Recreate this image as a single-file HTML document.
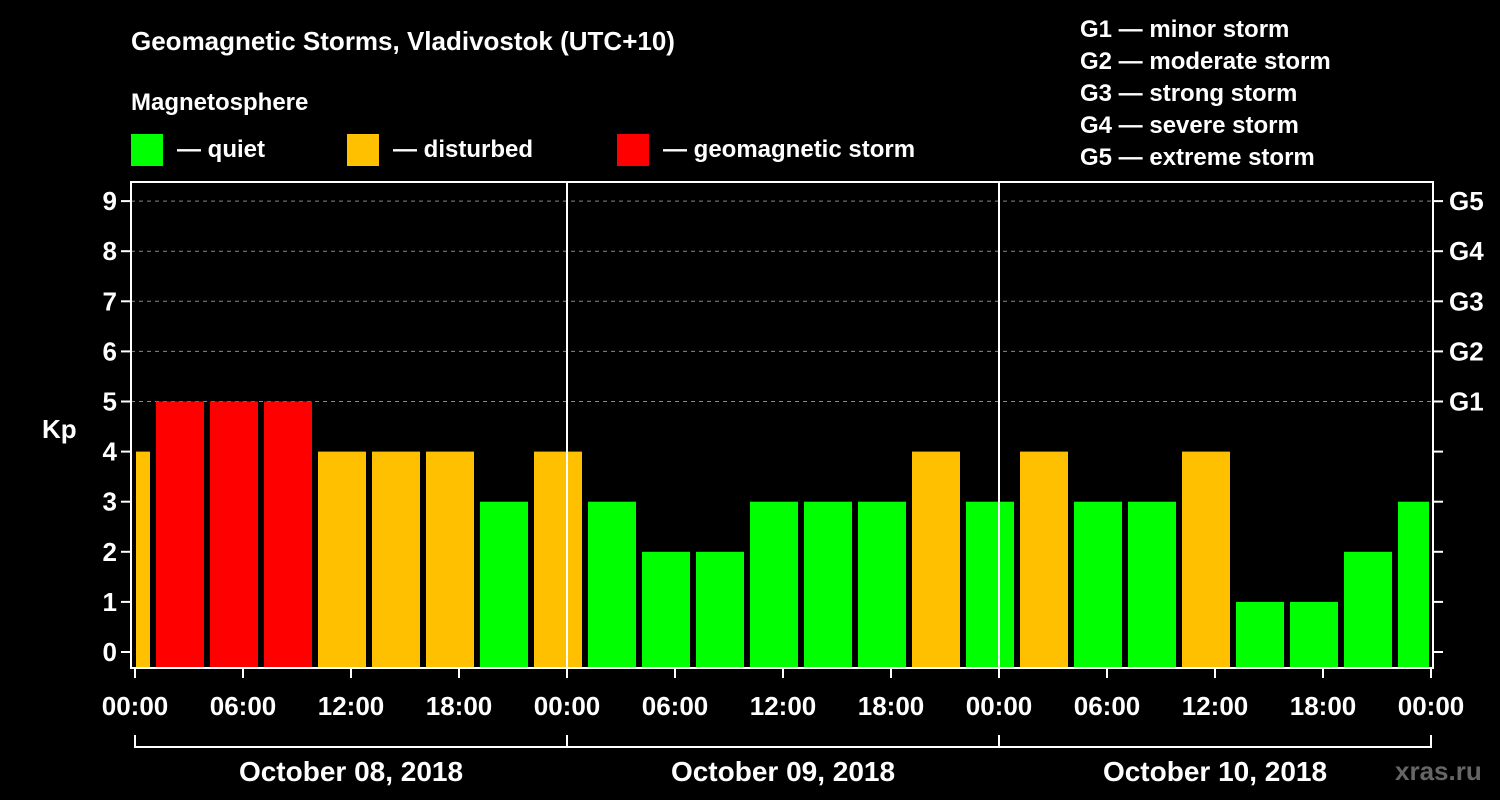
<!DOCTYPE html>
<html><head><meta charset="utf-8"><style>
body{margin:0;background:#000;}
svg{display:block;font-family:"Liberation Sans",Arial,sans-serif;font-weight:bold;}
</style></head><body>
<svg id="chart" width="1500" height="800" viewBox="0 0 1500 800">
<rect width="1500" height="800" fill="#000"/>
<text x="131" y="50" fill="#fff" font-size="26">Geomagnetic Storms, Vladivostok (UTC+10)</text>
<text x="131" y="110" fill="#fff" font-size="24">Magnetosphere</text>
<g>
<rect x="131" y="134" width="32" height="32" fill="#00ff00"/>
<text x="177" y="157" fill="#fff" font-size="24">— quiet</text>
<rect x="347" y="134" width="32" height="32" fill="#ffc000"/>
<text x="393" y="157" fill="#fff" font-size="24">— disturbed</text>
<rect x="617" y="134" width="32" height="32" fill="#ff0000"/>
<text x="663" y="157" fill="#fff" font-size="24">— geomagnetic storm</text>
</g>
<g fill="#fff" font-size="24">
<text x="1080" y="37">G1 — minor storm</text>
<text x="1080" y="69">G2 — moderate storm</text>
<text x="1080" y="101">G3 — strong storm</text>
<text x="1080" y="133">G4 — severe storm</text>
<text x="1080" y="165">G5 — extreme storm</text>
</g>
<g id="plot"></g>
<text x="42" y="438" fill="#fff" font-size="26">Kp</text>
<text x="1395" y="780" fill="#666" font-size="26">xras.ru</text>
</svg>
<script>
const startHours=[-2,1,4,7,10,13,16,19,22,25,28,31,34,37,40,43,46,49,52,55,58,61,64,67,70];
const kpValues=[4,5,5,5,4,4,4,3,4,3,2,2,3,3,3,4,3,4,3,3,4,1,1,2,3];
const yTicks=[0,1,2,3,4,5,6,7,8,9];
const gLabels=["G1","G2","G3","G4","G5"];
const gLevels=[5,6,7,8,9];
const timeLabels=["00:00","06:00","12:00","18:00","00:00","06:00","12:00","18:00","00:00","06:00","12:00","18:00","00:00"];
const dayLabels=["October 08, 2018","October 09, 2018","October 10, 2018"];
const NS="http://www.w3.org/2000/svg";
const L=131,R=1433,T=182,B=668,X0=135,PH=18;
const x=h=>X0+h*PH, y=v=>652-v*50.1;
const g=document.getElementById('plot');
function mk(t,a){const e=document.createElementNS(NS,t);for(const k in a)e.setAttribute(k,a[k]);g.appendChild(e);return e;}
// grid
gLevels.forEach(v=>{const e=mk('line',{x1:L,x2:R,y1:y(v),y2:y(v),stroke:'#888','stroke-dasharray':'4,4','stroke-width':1});

});
// bars
startHours.forEach((h,i)=>{const v=kpValues[i];
let x1=Math.max(x(h)+3,X0+1),x2=Math.min(x(h+3)-3,R-4);
const c=v>=5?'#ff0000':(v>=4?'#ffc000':'#00ff00');
const r=mk('rect',{x:x1,y:y(v),width:x2-x1,height:B-y(v),fill:c});

});
// day separators
[24,48].forEach(h=>{const e=mk('line',{x1:x(h),x2:x(h),y1:T,y2:B,stroke:'#fff','stroke-width':2});

});
// frame
const f=mk('rect',{x:L,y:T,width:R-L,height:B-T,fill:'none',stroke:'#fff','stroke-width':2});


yTicks.forEach(v=>{mk('line',{x1:L-10,x2:L,y1:y(v),y2:y(v),stroke:'#fff','stroke-width':2});
mk('line',{x1:R,x2:R+10,y1:y(v),y2:y(v),stroke:'#fff','stroke-width':2});
const t=mk('text',{x:L-14,y:y(v)+9,fill:'#fff','font-size':26,'text-anchor':'end'});t.textContent=v;

});
gLabels.forEach((s,i)=>{const t=mk('text',{x:R+16,y:y(gLevels[i])+9,fill:'#fff','font-size':26});t.textContent=s;

});
timeLabels.forEach((s,i)=>{const h=i*6;
mk('line',{x1:x(h),x2:x(h),y1:B,y2:B+10,stroke:'#fff','stroke-width':2});
const t=mk('text',{x:x(h),y:715,fill:'#fff','font-size':26,'text-anchor':'middle'});t.textContent=s;

});
mk('polyline',{points:`${x(0)},735 ${x(0)},747 ${x(72)},747 ${x(72)},735`,fill:'none',stroke:'#fff','stroke-width':2});
[24,48].forEach(h=>mk('line',{x1:x(h),x2:x(h),y1:735,y2:747,stroke:'#fff','stroke-width':2}));
dayLabels.forEach((s,i)=>{const t=mk('text',{x:x(i*24+12),y:781,fill:'#fff','font-size':28,'text-anchor':'middle'});t.textContent=s;

});
</script>
</body></html>
